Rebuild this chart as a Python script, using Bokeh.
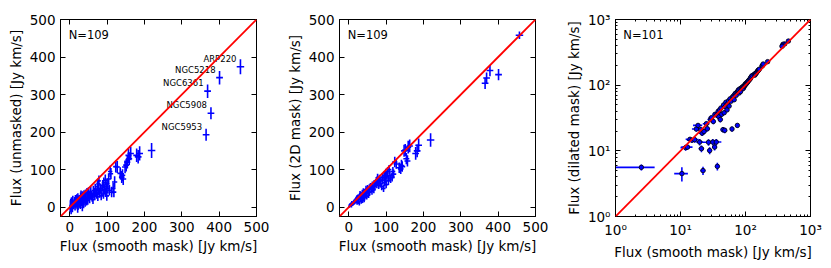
import math
from bokeh.plotting import figure
from bokeh.layouts import row
from bokeh.models import (ColumnDataSource, FixedTicker, LinearAxis, LogAxis, Slope,
                          Label, CustomJSTickFormatter, Range1d)
from bokeh.core.properties import value
from bokeh.embed import file_html
from bokeh.resources import INLINE

nan = float("nan")

# ---------------- data (Jy km/s) ----------------
smooth_flux = [0.8, 1.5, 2.5, 3.5, 4.5, 6.0, 7.0, 8.0, 9.0,
               10.5, 12.0, 12.8, 14.0, 15.0, 16.5, 17.5, 18.6, 19.7, 20.5, 21.0, 21.5, 22.2, 23.0,
               25.0, 25.9, 27.0, 28.1, 29.0, 30.0, 31.4, 32.0, 33.5, 34.0, 35.5, 36.0, 36.9, 38.0,
               39.0, 40.0, 41.0, 42.0, 43.0,
               45.0, 46.0, 47.0, 48.0, 49.0, 50.0, 52.0, 53.0, 55.0, 56.0, 58.0, 60.0,
               62.0, 63.0, 65.0, 67.0, 68.0, 70.0, 72.0, 74.0, 75.0, 76.0, 77.0, 78.0, 80.0, 82.0,
               84.0, 86.0, 88.0, 90.0, 91.0, 93.0, 95.0, 96.0, 98.0, 99.0, 100.0, 102.0, 104.0,
               106.0, 108.0, 110.0, 112.0,
               116.0, 118.0, 120.0, 123.0, 127.0, 135.0, 139.0, 141.0, 143.0, 148.0, 151.0, 154.0,
               157.0, 159.0, 163.0, 179.0, 183.0, 187.0, 219.0,
               457.0, 401.0, 378.0, 369.0, 365.0]
smooth_err = [1.0, 1.2, 1.5, 1.0, 1.5, 1.5, 1.5, 2.0, 2.0,
              2.5, 2.0, 2.5, 2.0, 2.5, 2.5, 2.5, 3.0, 2.5, 2.5, 2.0, 2.5, 2.0, 2.5,
              3.0, 2.5, 8.0, 2.5, 3.0, 3.0, 3.0, 3.0, 3.0, 3.0, 7.0, 3.0, 3.0, 3.0,
              3.0, 3.0, 3.5, 3.5, 3.5,
              3.5, 3.5, 3.5, 3.5, 4.0, 4.0, 4.0, 4.0, 4.0, 4.0, 4.0, 4.0,
              4.0, 4.0, 4.5, 4.5, 4.5, 4.5, 4.5, 5.0, 5.0, 5.0, 5.0, 5.0, 5.0, 5.0,
              5.0, 5.0, 5.0, 5.5, 5.5, 5.5, 5.5, 5.5, 6.0, 6.0, 6.0, 6.0, 6.0,
              6.0, 6.0, 6.0, 6.5,
              6.5, 6.5, 7.0, 7.0, 7.0, 7.5, 7.5, 7.5, 8.0, 8.0, 8.0, 8.0,
              8.0, 8.0, 8.5, 9.0, 9.0, 9.0, 10.0,
              10.0, 9.0, 9.0, 9.0, 9.0]
unmasked_flux = [-4, 6, 10, -8, 14, 2, -2, 18, 7,
                 4, 10, 15, 2, 20, 8, 12, 22, 5, 16, -5, 25, 3, 18,
                 20, 9, 11, 6, 27, 32, 14, 25, 0, 30, 18, 22, 8, 33,
                 24, 28, 12, 35, 20,
                 15, 38, 25, 18, 33, 40, 28, 22, 36, 42, 30, 26,
                 20, 44, 38, 30, 48, 40, 35, 55, 28, 62, 45, 70, 38, 50,
                 30, 45, 58, 35, 65, 48, 72, 40, 55, 30, 62, 50, 75,
                 45, 95, 89, 40,
                 50, 40, 67, 108, 107, 90, 80, 85, 75, 107, 112, 120,
                 138, 129, 143, 138, 134, 143, 151,
                 374, 345, 250, 309, 193]
unmasked_err = [10, 12, 12, 11, 12, 10, 12, 12, 11,
                10, 11, 12, 11, 12, 11, 12, 12, 11, 12, 10, 12, 10, 12,
                12, 11, 12, 11, 12, 12, 11, 12, 11, 12, 12, 12, 11, 12,
                12, 12, 11, 12, 12,
                11, 13, 12, 12, 12, 13, 12, 12, 13, 13, 12, 12,
                12, 13, 13, 12, 14, 13, 13, 14, 12, 14, 13, 14, 13, 13,
                12, 13, 14, 13, 14, 13, 15, 13, 14, 13, 14, 14, 15,
                14, 15, 15, 14,
                14, 14, 15, 16, 16, 16, 16, 16, 16, 17, 17, 17,
                17, 17, 18, 18, 18, 19, 20,
                20, 18, 16, 18, 16]
mask2d_flux = [1, 4, 3, 6, 5, 8, 4, 10, 9,
               8, 11, 12, 14, 13, 15, 18, 20, 16, 22, 19, 24, 12, 25,
               27, 14, 22, 10, 30, 35, 20, 33, 15, 28, 22, 38, 18, 32,
               42, 25, 20, 40, 35,
               30, 48, 38, 28, 43, 50, 45, 32, 52, 40, 55, 48,
               42, 58, 50, 46, 62, 55, 65, 70, 60, 72, 78, 68, 58, 75,
               62, 70, 55, 80, 72, 50, 85, 65, 78, 90, 60, 82, 95,
               70, 100, 85, 75,
               80, 95, 88, 120, 115, 105, 102, 111, 108, 150, 152, 129,
               123, 160, 163, 143, 150, 165, 179,
               458, 353, 364, 344, 330]
mask2d_err = [3, 4, 4, 5, 4, 5, 5, 6, 5,
              5, 5, 6, 6, 6, 6, 6, 6, 6, 7, 6, 7, 6, 7,
              7, 6, 7, 6, 7, 8, 7, 8, 6, 8, 7, 8, 7, 8,
              8, 8, 7, 8, 8,
              8, 9, 8, 8, 9, 9, 9, 8, 9, 9, 9, 9,
              9, 10, 9, 9, 10, 10, 10, 10, 10, 10, 11, 10, 10, 11,
              10, 11, 10, 11, 11, 10, 11, 10, 11, 12, 10, 12, 12,
              11, 12, 12, 11,
              12, 12, 12, 14, 13, 14, 14, 15, 14, 16, 16, 15,
              15, 17, 17, 17, 17, 18, 18,
              10, 15, 15, 15, 15]
dilated_flux = [nan, nan, 5.6, nan, nan, nan, nan, nan, nan,
                4.5, 11.2, 11.4, 15.0, 14.5, 14.8, 21.5, 24.4, 13.6, 21.0, 10.8, 18.6, 5.0, 19.7,
                25.9, 21.7, 13.5, 10.1, 30, 32, 13.6, 28, 11.4, 36, 13.6, 35, 5.8, 40,
                33, 42, 30, 45, 36,
                21, 50, 38, 20.5, 47, 55, 42, 52, 58, 48, 62, 57,
                21.5, 66, 68, 60, 72, 75, 70, 78, 24.4, 80, 82, 85, 76, 88,
                80, 90, 92, 88, 95, 90, 98, 96, 100, 102, 105, 104, 108,
                110, 112, 115, 118,
                122, 125, 130, 135, 140, 145, 142, 150, 148, 155, 160, 165,
                168, 170, 175, 195, 200, 210, 228,
                470, 425, 420, 400, 390]
dilated_err = [0, 0, 0.6, 0, 0, 0, 0, 0, 0,
               1.1, 1.2, 1.0, 1.2, 1.2, 1.5, 2, 2, 1.5, 2, 1.3, 1.8, 0.7, 2,
               2, 2, 1.5, 1.2, 2.5, 2.5, 1.5, 2.5, 1.3, 3, 1.5, 3, 0.8, 3,
               3, 3, 3, 3, 3,
               2, 3, 3, 2, 3, 3, 3, 3, 3, 3, 3, 3,
               2, 4, 4, 4, 4, 4, 4, 4, 2, 4, 4, 4, 4, 4,
               4, 4, 4, 4, 4, 4, 5, 5, 5, 5, 5, 5, 5,
               5, 5, 5, 5,
               5, 5, 6, 6, 6, 6, 6, 6, 6, 7, 7, 7,
               7, 7, 7, 8, 8, 8, 9,
               20, 18, 18, 18, 18]
# the five brightest galaxies (last five entries) are labelled in the first panel
label_names = ["ARP220", "NGC5218", "NGC5908", "NGC6361", "NGC5953"]

lin_range = (-25, 500)
log_range = (1, 1000)
lin_ticks = [0, 100, 200, 300, 400, 500]
log_ticks = [1, 10, 100, 1000]

FONT = "DejaVu Sans"
BLUE = "#0000ff"


def errbar_source(x, xe, y, ye):
    rows = [(a, b, c, d) for a, b, c, d in zip(x, xe, y, ye) if not math.isnan(c)]
    return ColumnDataSource(dict(
        x=[r[0] for r in rows], y=[r[2] for r in rows],
        xl=[r[0] - r[1] for r in rows], xh=[r[0] + r[1] for r in rows],
        yl=[r[2] - r[3] for r in rows], yh=[r[2] + r[3] for r in rows],
    )), len(rows)


def style_axis(ax, ticks, minor=None, show_labels=True, log=False):
    ax.ticker = FixedTicker(ticks=ticks, minor_ticks=minor or [])
    ax.axis_line_color = "black"
    ax.axis_line_width = 1
    ax.major_tick_line_color = "black"
    ax.major_tick_in = 5
    ax.major_tick_out = 0
    ax.minor_tick_in = 2
    ax.minor_tick_out = 0
    ax.minor_tick_line_color = "black" if minor else None
    ax.major_label_text_font = FONT
    ax.major_label_text_font_size = "13.5px"
    ax.major_label_text_color = "black"
    ax.major_label_standoff = 5
    ax.axis_label_text_font = FONT
    ax.axis_label_text_font_size = "13.5px"
    ax.axis_label_text_font_style = "normal"
    ax.axis_label_text_color = "black"
    ax.axis_label_standoff = 3
    if not show_labels:
        ax.formatter = CustomJSTickFormatter(code="return ''")
    elif log:
        ax.formatter = CustomJSTickFormatter(code="""
            const sup = {"0": "\u2070", "1": "\u00b9", "2": "\u00b2", "3": "\u00b3"};
            const e = String(Math.round(Math.log10(tick)));
            return "10" + e.split("").map(c => sup[c]).join("");
        """)


def make_panel(y, ye, ylabel, log=False, left=52, right=27, fw=196, labels=False):
    rng = log_range if log else lin_range
    kw = dict(x_axis_type="log", y_axis_type="log") if log else {}
    p = figure(frame_width=fw, frame_height=197, output_backend="svg", toolbar_location=None,
               x_range=Range1d(*rng), y_range=Range1d(*rng),
               min_border_left=left, min_border_right=right, min_border_top=19,
               min_border_bottom=44, **kw)
    p.grid.visible = False
    p.outline_line_color = "black"
    p.outline_line_width = 1
    p.background_fill_color = "white"
    p.border_fill_color = "white"
    ticks = log_ticks if log else lin_ticks
    minor = [k * t for t in log_ticks[:-1] for k in range(2, 10)] if log else None
    style_axis(p.xaxis[0], ticks, minor, log=log)
    style_axis(p.yaxis[0], ticks, minor, log=log)
    p.xaxis[0].axis_label = "Flux (smooth mask) [Jy km/s]"
    p.yaxis[0].axis_label = ylabel
    Axis = LogAxis if log else LinearAxis
    top, rgt = Axis(), Axis()
    style_axis(top, ticks, minor, show_labels=False)
    style_axis(rgt, ticks, minor, show_labels=False)
    top.major_label_standoff = 0
    rgt.major_label_standoff = 0
    p.add_layout(top, "above")
    p.add_layout(rgt, "right")

    p.add_layout(Slope(gradient=1, y_intercept=0, line_color="red", line_width=1.8))

    src, n = errbar_source(smooth_flux, smooth_err, y, ye)
    p.segment(x0="xl", x1="xh", y0="y", y1="y", source=src, line_color=BLUE, line_width=1.6)
    p.segment(x0="x", x1="x", y0="yl", y1="yh", source=src, line_color=BLUE, line_width=1.6)
    if log:
        p.scatter(x="x", y="y", source=src, size=4.5, fill_color=BLUE, line_color="black",
                  line_width=0.8)

    # "N=..." label near the upper-left corner of the frame
    if log:
        lx = 10 ** (math.log10(rng[0]) + 0.04 * (math.log10(rng[1]) - math.log10(rng[0])))
        ly = 10 ** (math.log10(rng[0]) + 0.955 * (math.log10(rng[1]) - math.log10(rng[0])))
    else:
        lx = rng[0] + 0.042 * (rng[1] - rng[0])
        ly = rng[0] + 0.955 * (rng[1] - rng[0])
    p.add_layout(Label(x=lx, y=ly, text=f"N={n}", text_baseline="top", text_align="left",
                       text_font=FONT, text_font_size="11.5px", text_color="black"))

    if labels:
        k = len(label_names)
        lsrc = ColumnDataSource(dict(x=smooth_flux[-k:], y=y[-k:], name=label_names))
        p.text(x="x", y="y", text="name", source=lsrc, text_align="right",
               text_baseline="bottom", x_offset=-4, y_offset=-3,
               text_font=value(FONT), text_font_size="8.5px", text_color="black")
    return p


p1 = make_panel(unmasked_flux, unmasked_err, "Flux (unmasked) [Jy km/s]", left=60, labels=True)
p2 = make_panel(mask2d_flux, mask2d_err, "Flux (2D mask) [Jy km/s]")
p3 = make_panel(dilated_flux, dilated_err, "Flux (dilated mask) [Jy km/s]", log=True,
                left=53, right=20, fw=195)

layout = row(p1, p2, p3, spacing=0)
open("out.html", "w").write(file_html(layout, INLINE))
